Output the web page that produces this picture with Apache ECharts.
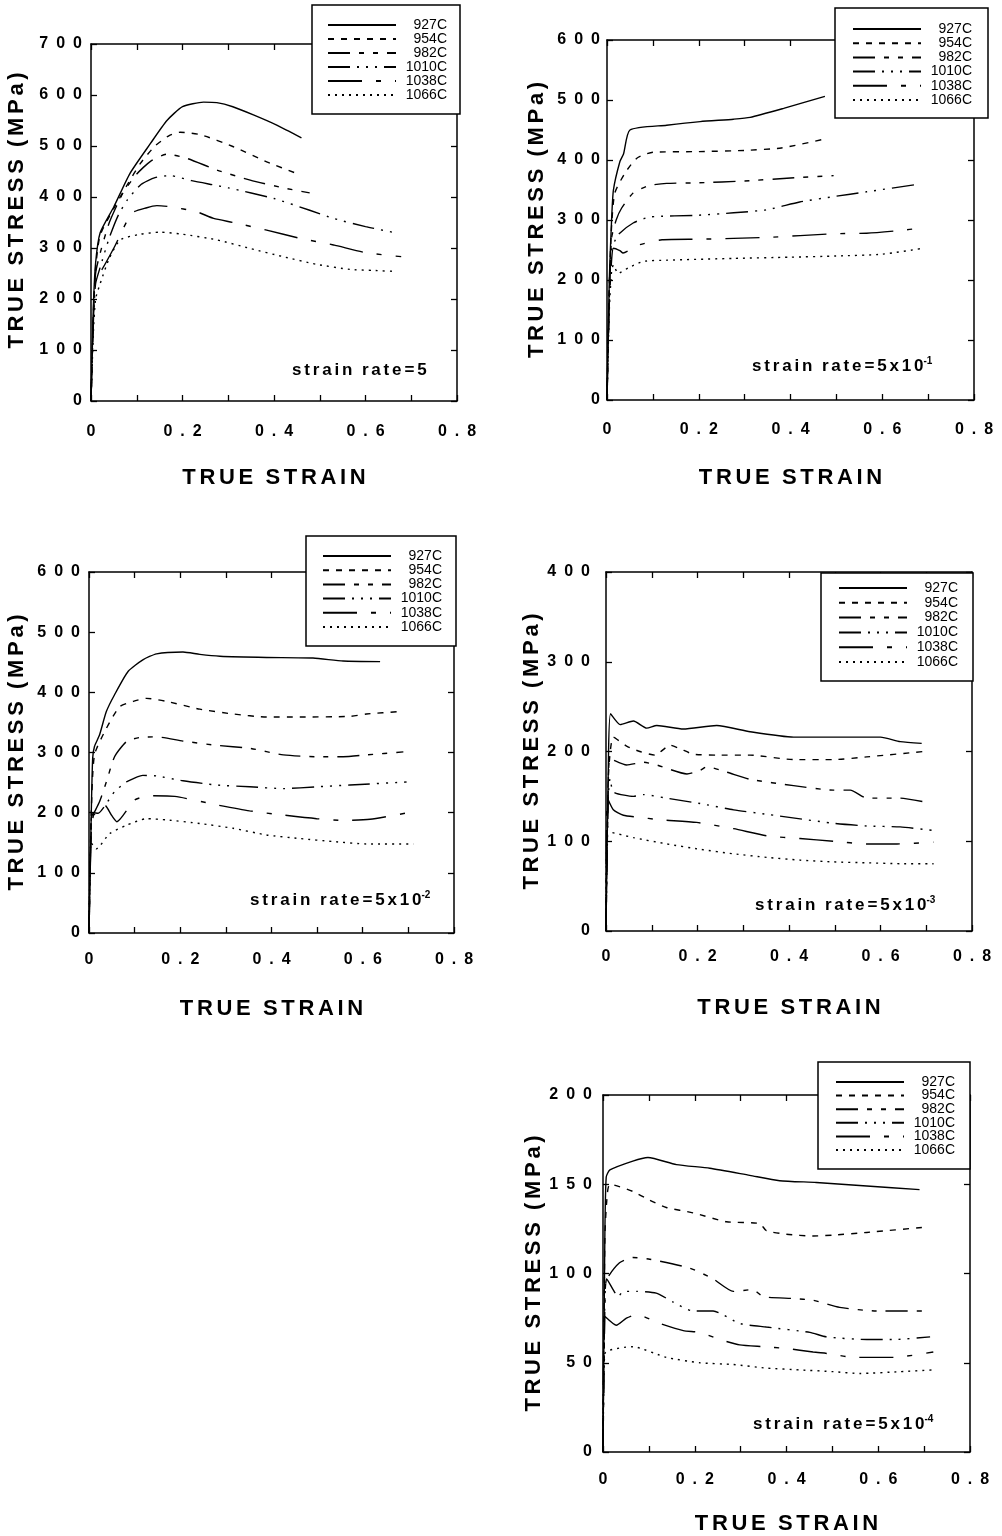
<!DOCTYPE html>
<html>
<head>
<meta charset="utf-8">
<title>True stress - true strain curves</title>
<script src="https://cdn.jsdelivr.net/npm/echarts@6.0.0/dist/echarts.min.js"></script>
<style>
  html, body { margin: 0; padding: 0; background: #fff; }
  #chart { width: 1002px; height: 1536px; }
</style>
</head>
<body>
<div id="chart"></div>
<script>
// legend names
const temps = ['927C', '954C', '982C', '1010C', '1038C', '1066C'];

// tick values
const strainTicks = [0, 0.2, 0.4, 0.6, 0.8];
const stressTicksA = [0, 100, 200, 300, 400, 500, 600, 700];
const stressTicksB = [0, 100, 200, 300, 400, 500, 600];
const stressTicksC = [0, 100, 200, 300, 400];
const stressTicksD = [0, 50, 100, 150, 200];

// strain rate = 5   [true strain, true stress MPa]
const r5_927 = [[0,0],[0.005,180],[0.01,270],[0.02,330],[0.05,381],[0.085,446],[0.13,505],[0.166,550],[0.2,577],[0.246,586],[0.275,585],[0.31,577],[0.355,561],[0.406,541],[0.46,516]];
const r5_954 = [[0,0],[0.005,170],[0.01,260],[0.02,325],[0.05,378],[0.08,425],[0.108,466],[0.14,500],[0.17,520],[0.195,527],[0.24,522],[0.31,499],[0.384,469],[0.453,445]];
const r5_982 = [[0,0],[0.005,160],[0.01,250],[0.02,290],[0.04,350],[0.07,408],[0.1,445],[0.13,470],[0.166,484],[0.209,476],[0.275,453],[0.348,433],[0.42,418],[0.478,408]];
const r5_1010 = [[0,0],[0.005,150],[0.01,230],[0.02,262],[0.04,320],[0.06,365],[0.08,395],[0.11,425],[0.14,438],[0.173,442],[0.22,432],[0.3,418],[0.4,397],[0.478,374],[0.53,358],[0.6,342],[0.67,329]];
const r5_1038 = [[0,0],[0.005,150],[0.01,245],[0.02,252],[0.05,300],[0.089,368],[0.122,379],[0.144,383],[0.173,381],[0.231,371],[0.268,358],[0.311,350],[0.384,335],[0.457,319],[0.53,306],[0.6,291],[0.678,283]];
const r5_1066 = [[0,0],[0.005,130],[0.01,200],[0.02,230],[0.04,280],[0.064,316],[0.108,327],[0.151,331],[0.2,327],[0.275,316],[0.348,299],[0.42,283],[0.493,268],[0.566,258],[0.617,256],[0.668,254]];

// strain rate = 5x10^-1
const r1_927 = [[0,0],[0.005,200],[0.01,300],[0.014,350],[0.028,397],[0.036,410],[0.05,450],[0.13,458],[0.203,464],[0.276,468],[0.312,471],[0.385,486],[0.475,506]];
const r1_954 = [[0,0],[0.005,190],[0.01,290],[0.017,345],[0.039,378],[0.065,403],[0.1,413],[0.2,414],[0.3,416],[0.38,420],[0.475,435]];
const r1_982 = [[0,0],[0.005,180],[0.01,270],[0.02,300],[0.032,320],[0.057,345],[0.09,357],[0.13,361],[0.2,362],[0.3,365],[0.4,370],[0.494,374]];
const r1_1010 = [[0,0],[0.005,170],[0.01,250],[0.024,275],[0.057,295],[0.094,305],[0.2,308],[0.276,312],[0.348,317],[0.42,330],[0.494,339],[0.566,347],[0.682,360]];
const r1_1038 = [[0,0],[0.005,160],[0.01,233],[0.014,253],[0.028,249],[0.035,245],[0.068,258],[0.12,267],[0.203,268],[0.348,271],[0.494,277],[0.566,278],[0.632,282],[0.69,287]];
const r1_1066 = [[0,0],[0.005,150],[0.01,215],[0.014,225],[0.024,211],[0.046,220],[0.079,231],[0.13,233],[0.276,236],[0.4,238],[0.5,240],[0.6,243],[0.69,253]];

// strain rate = 5x10^-2
const r2_927 = [[0,0],[0.005,200],[0.008,290],[0.012,310],[0.023,329],[0.038,368],[0.056,396],[0.086,435],[0.118,454],[0.148,464],[0.206,467],[0.243,463],[0.287,460],[0.389,458],[0.491,457],[0.557,452],[0.638,451]];
const r2_954 = [[0,0],[0.005,200],[0.012,296],[0.038,340],[0.067,376],[0.097,385],[0.126,390],[0.17,385],[0.243,372],[0.316,364],[0.389,359],[0.462,359],[0.572,360],[0.608,364],[0.682,368]];
const r2_982 = [[0,0],[0.005,190],[0.012,201],[0.023,218],[0.038,251],[0.056,293],[0.082,318],[0.111,325],[0.148,326],[0.206,319],[0.279,312],[0.352,307],[0.426,296],[0.499,293],[0.557,293],[0.608,296],[0.689,301]];
const r2_1010 = [[0,0],[0.005,190],[0.01,200],[0.02,199],[0.038,215],[0.056,235],[0.082,251],[0.118,262],[0.148,261],[0.206,253],[0.279,246],[0.352,243],[0.426,240],[0.499,243],[0.572,246],[0.696,251]];
const r2_1038 = [[0,0],[0.005,170],[0.01,196],[0.017,199],[0.035,212],[0.05,195],[0.061,185],[0.1,221],[0.134,228],[0.188,227],[0.28,213],[0.352,203],[0.426,196],[0.499,190],[0.557,187],[0.616,189],[0.7,200]];
const r2_1066 = [[0,0],[0.004,150],[0.01,145],[0.016,140],[0.045,165],[0.082,179],[0.126,190],[0.17,188],[0.243,182],[0.316,174],[0.389,163],[0.462,157],[0.535,152],[0.608,148],[0.711,148]];

// strain rate = 5x10^-3
const r3_927 = [[0,0],[0.005,180],[0.01,242],[0.031,230],[0.06,234],[0.089,226],[0.111,229],[0.169,225],[0.242,229],[0.315,222],[0.41,216],[0.497,216],[0.6,216],[0.643,211],[0.69,209]];
const r3_954 = [[0,0],[0.005,170],[0.016,216],[0.045,206],[0.074,200],[0.107,196],[0.14,207],[0.162,203],[0.191,197],[0.242,196],[0.315,196],[0.41,191],[0.497,191],[0.57,194],[0.694,200]];
const r3_982 = [[0,0],[0.005,160],[0.009,192],[0.045,185],[0.082,188],[0.111,185],[0.177,175],[0.206,179],[0.22,183],[0.264,177],[0.315,169],[0.41,162],[0.497,157],[0.534,157],[0.57,148],[0.643,148],[0.694,144]];
const r3_1010 = [[0,0],[0.005,150],[0.009,170],[0.016,155],[0.06,150],[0.082,152],[0.133,148],[0.206,142],[0.279,135],[0.352,130],[0.497,120],[0.57,117],[0.643,116],[0.716,112]];
const r3_1038 = [[0,0],[0.003,148],[0.016,135],[0.038,129],[0.067,127],[0.118,124],[0.198,121],[0.279,114],[0.352,106],[0.424,103],[0.497,100],[0.57,97],[0.636,97],[0.716,99]];
const r3_1066 = [[0,0],[0.003,111],[0.06,104],[0.133,97],[0.206,91],[0.279,86],[0.352,82],[0.424,79],[0.497,77],[0.57,76],[0.643,75],[0.716,75]];

// strain rate = 5x10^-4
const r4_927 = [[0,0],[0.004,120],[0.007,154],[0.015,158],[0.065,163],[0.098,165],[0.16,161],[0.233,159],[0.32,155],[0.385,152],[0.465,151],[0.575,149],[0.69,147]];
const r4_954 = [[0,0],[0.004,120],[0.008,140],[0.015,150],[0.065,146],[0.102,141],[0.138,137],[0.196,134],[0.269,129],[0.342,128],[0.356,124],[0.4,122],[0.458,121],[0.502,121.5],[0.575,123],[0.705,126]];
const r4_982 = [[0,0],[0.004,80],[0.007,96],[0.036,106],[0.065,109],[0.102,108],[0.189,103],[0.24,97],[0.284,90],[0.327,91],[0.349,87],[0.415,86],[0.458,85],[0.516,81],[0.596,79],[0.713,79]];
const r4_1010 = [[0,0],[0.004,85],[0.008,97],[0.022,91],[0.033,87],[0.044,90],[0.073,90],[0.116,89],[0.153,84],[0.196,79],[0.24,79],[0.298,72],[0.356,70],[0.451,67],[0.487,64.5],[0.575,63],[0.633,63],[0.713,64.5]];
const r4_1038 = [[0,0],[0.004,76],[0.029,71],[0.051,75],[0.073,77],[0.124,72],[0.175,68],[0.211,67],[0.255,63],[0.298,60],[0.349,59],[0.4,58],[0.458,56],[0.495,55],[0.545,53],[0.633,53],[0.72,56]];
const r4_1066 = [[0,0],[0.004,55],[0.065,59],[0.138,53],[0.211,50],[0.284,49],[0.356,47],[0.429,46],[0.502,45],[0.56,44],[0.647,45],[0.72,46]];

// line dash per temperature
const dashes = ['solid', [6, 7], [22, 9, 5, 9, 5, 9], [22, 7, 2, 7, 2, 7, 2, 7], [34, 14, 5, 14], [2, 5]];

const FONT = 'Liberation Sans, Arial, Helvetica, sans-serif';

// panel layout (page pixels)
const panels = [
  { grid: [91, 44, 366, 357], yTicks: stressTicksA, curves: [r5_927, r5_954, r5_982, r5_1010, r5_1038, r5_1066],
    yMargin: 9, xMargin: 23, yGap: 63, xGap: 66, yShift: 24,
    legend: { left: 312, top: 5, padding: [13, 13, 12, 15], row: 14 },
    note: { left: 292, top: 360, rate: '5', exp: '' } },
  { grid: [607, 40, 367, 360], yTicks: stressTicksB, curves: [r1_927, r1_954, r1_982, r1_1010, r1_1038, r1_1066],
    yMargin: 7, xMargin: 22, yGap: 59, xGap: 67, yShift: 0,
    legend: { left: 835, top: 8, padding: [14, 16, 11, 17], row: 14.2 },
    note: { left: 752, top: 356, rate: '5x10', exp: '-1' } },
  { grid: [89, 572, 365, 361], yTicks: stressTicksB, curves: [r2_927, r2_954, r2_982, r2_1010, r2_1038, r2_1066],
    yMargin: 9, xMargin: 19, yGap: 61, xGap: 65, yShift: 0,
    legend: { left: 306, top: 536, padding: [13, 14, 12, 16], row: 14.2 },
    note: { left: 250, top: 890, rate: '5x10', exp: '-2' } },
  { grid: [606, 572, 366, 359], yTicks: stressTicksC, curves: [r3_927, r3_954, r3_982, r3_1010, r3_1038, r3_1066],
    yMargin: 16, xMargin: 18, yGap: 59, xGap: 66, yShift: 0,
    legend: { left: 821, top: 573, padding: [8, 15, 12, 17], row: 14.8 },
    note: { left: 755, top: 895, rate: '5x10', exp: '-3' } },
  { grid: [603, 1095, 367, 357], yTicks: stressTicksD, curves: [r4_927, r4_954, r4_982, r4_1010, r4_1038, r4_1066],
    yMargin: 11, xMargin: 20, yGap: 58, xGap: 61, yShift: 0,
    legend: { left: 818, top: 1062, padding: [13, 15, 12, 17], row: 13.6 },
    note: { left: 753, top: 1414, rate: '5x10', exp: '-4' } }
];

function spread(s) { return s.split('').join('\u2006'); }
function title(s) { return s.split(' ').map(spread).join('  '); }
function tickText(v, digits) {
  if (v === 0) return '0';
  return (digits ? v.toFixed(digits) : String(v)).split('').join('\u2002');
}

const option = { animation: false, backgroundColor: '#fff', grid: [], xAxis: [], yAxis: [], series: [], legend: [], title: [] };

const axisLine = { show: true, onZero: false, lineStyle: { color: '#000', width: 1.5 } };
const tick = { show: true, inside: true, length: 6, lineStyle: { color: '#000', width: 1.3 } };
const minor = { show: true, splitNumber: 2, length: 6, lineStyle: { color: '#000', width: 1.3 } };
const labelFont = { color: '#000', fontFamily: FONT, fontWeight: 'bold', fontSize: 16 };
const nameFont = { color: '#000', fontFamily: FONT, fontWeight: 'bold', fontSize: 22 };

panels.forEach((p, gi) => {
  option.grid.push({ left: p.grid[0], top: p.grid[1], width: p.grid[2], height: p.grid[3], outerBoundsMode: 'none', containLabel: false });
  const xMin = strainTicks[0], xMax = strainTicks[strainTicks.length - 1], xInt = strainTicks[1] - strainTicks[0];
  const yMin = p.yTicks[0], yMax = p.yTicks[p.yTicks.length - 1], yInt = p.yTicks[1] - p.yTicks[0];
  const xi = option.xAxis.length, yi = option.yAxis.length;
  option.xAxis.push({
    type: 'value', gridIndex: gi, position: 'bottom', min: xMin, max: xMax, interval: xInt,
    name: title('TRUE STRAIN'), nameLocation: 'middle', nameGap: p.xGap, nameTextStyle: nameFont,
    axisLine: axisLine, axisTick: tick, minorTick: minor, splitLine: { show: false }, minorSplitLine: { show: false },
    axisLabel: Object.assign({ margin: p.xMargin, showMinLabel: true, showMaxLabel: true, formatter: v => tickText(v, 1) }, labelFont)
  });
  option.xAxis.push({
    type: 'value', gridIndex: gi, position: 'top', min: xMin, max: xMax, interval: xInt,
    axisLine: axisLine, axisTick: tick, minorTick: minor, splitLine: { show: false }, axisLabel: { show: false }
  });
  option.yAxis.push({
    type: 'value', gridIndex: gi, position: 'left', min: yMin, max: yMax, interval: yInt,
    name: title('TRUE STRESS (MPa)'), nameLocation: 'middle', nameGap: p.yGap, nameRotate: 90,
    nameTextStyle: Object.assign({ padding: [0, 0, 0, p.yShift] }, nameFont),
    axisLine: axisLine, axisTick: tick, splitLine: { show: false },
    axisLabel: Object.assign({ margin: p.yMargin, showMinLabel: true, showMaxLabel: true, formatter: v => tickText(v, 0) }, labelFont)
  });
  option.yAxis.push({
    type: 'value', gridIndex: gi, position: 'right', min: yMin, max: yMax, interval: yInt,
    axisLine: axisLine, axisTick: tick, splitLine: { show: false }, axisLabel: { show: false }
  });

  p.curves.forEach((d, k) => {
    option.series.push({
      name: temps[k], type: 'line', xAxisIndex: xi, yAxisIndex: yi, data: d,
      symbol: 'none', smooth: 0.2, clip: true,
      lineStyle: { color: '#000', width: 1.4, type: dashes[k] }
    });
  });

  const L = p.legend;
  option.legend.push({
    data: temps, orient: 'vertical', left: L.left, top: L.top, padding: L.padding,
    itemWidth: 68, itemHeight: 10, itemGap: L.row - 14,
    backgroundColor: '#fff', borderColor: '#000', borderWidth: 1.5, borderRadius: 0,
    itemStyle: { opacity: 0 }, selectedMode: false, z: 10,
    formatter: '{t|{name}}',
    textStyle: { rich: { t: { width: 46, align: 'right', fontSize: 14, lineHeight: 14, fontFamily: FONT, color: '#000' } } }
  });

  const N = p.note;
  let txt = '{a|' + spread('strain') + '  ' + spread('rate=' + N.rate) + '}';
  if (N.exp) txt += '{s|' + N.exp + '}';
  option.title.push({
    left: N.left, top: N.top, padding: 0, text: txt,
    textStyle: { rich: {
      a: { fontSize: 17, fontWeight: 'bold', fontFamily: FONT, color: '#000', lineHeight: 20 },
      s: { fontSize: 10, fontWeight: 'bold', fontFamily: FONT, color: '#000', lineHeight: 12, verticalAlign: 'top' }
    } }
  });
});

const chart = echarts.init(document.getElementById('chart'), null, { renderer: 'canvas' });
chart.setOption(option);
</script>
</body>
</html>
